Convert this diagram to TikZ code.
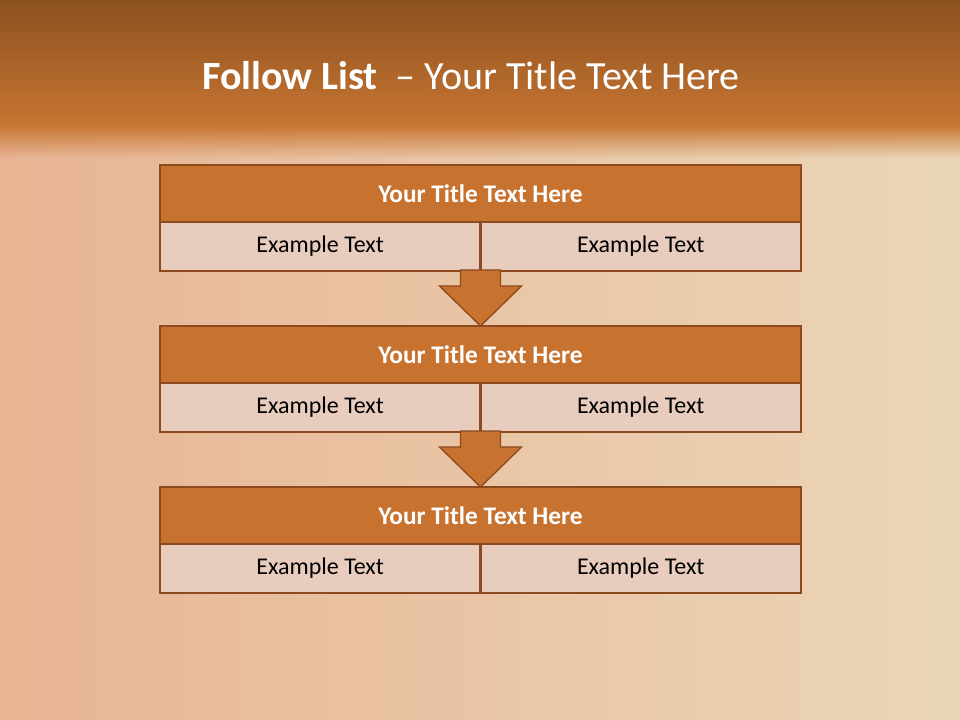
\documentclass[tikz,border=0pt]{standalone}
\usepackage{fontspec}
\setmainfont{Carlito}
\usepackage{tikz}
\usetikzlibrary{positioning, calc, fadings}
\definecolor{headtop}{RGB}{140, 80, 32}
\definecolor{headbot}{RGB}{200, 118, 50}
\definecolor{bandfill}{RGB}{200, 114, 48}
\definecolor{boxline}{RGB}{140, 74, 30}
\definecolor{cellfill}{RGB}{232, 204, 190}
\definecolor{bgleft}{RGB}{232, 180, 148}
\definecolor{bgmid}{RGB}{237, 208, 192}
\definecolor{bgright}{RGB}{234, 214, 182}

\begin{document}
\begin{tikzpicture}[
    x=0.75pt, y=-0.75pt,
    band/.style={rectangle, draw=boxline, fill=bandfill, line width=2pt, inner sep=0pt, outer sep=0pt, minimum width=480.75pt, minimum height=42.75pt, text=white, font=\fontsize{19}{23}\selectfont\bfseries},
    cell/.style={rectangle, draw=boxline, fill=cellfill, line width=2pt, inner sep=0pt, outer sep=0pt, minimum width=240.4pt, minimum height=36.75pt, text=black, font=\fontsize{18}{22}\selectfont},
    flow/.style={draw=boxline, fill=bandfill, line width=1pt, line join=miter}
]
% Slide background
\shade[left color=bgleft, middle color=bgmid, right color=bgright] (0,0) rectangle (960,720);
\shade[top color=headtop, bottom color=headbot] (0,0) rectangle (960,126);
\fill[headbot, path fading=south] (0,125) rectangle (960,158);

% Slide title
\node[text=white, font=\fontsize{30}{36}\selectfont] (title) at (471,76) {\textbf{Follow List}\ \ – Your Title Text Here};

% Box 1
\node[band] (t1) at (480.5,193.5) {Your Title Text Here};
\node[cell, anchor=north east] (l1) at (t1.south) {Example Text};
\node[cell, anchor=north west] (r1) at (t1.south) {Example Text};

% Box 2
\node[band] (t2) at (480.5,354.5) {Your Title Text Here};
\node[cell, anchor=north east] (l2) at (t2.south) {Example Text};
\node[cell, anchor=north west] (r2) at (t2.south) {Example Text};

% Box 3
\node[band] (t3) at (480.5,515.5) {Your Title Text Here};
\node[cell, anchor=north east] (l3) at (t3.south) {Example Text};
\node[cell, anchor=north west] (r3) at (t3.south) {Example Text};

% Down arrows between boxes
\foreach \i/\j in {1/2, 2/3} {
    \draw[flow] ($(l\i.south east)+(-20,-1)$) -- ($(l\i.south east)+(20,-1)$)
        -- ($(t\j.north)+(20,-40)$) -- ($(t\j.north)+(41,-40)$) -- (t\j.north)
        -- ($(t\j.north)+(-41,-40)$) -- ($(t\j.north)+(-20,-40)$) -- cycle;
}

\end{tikzpicture}
\end{document}
